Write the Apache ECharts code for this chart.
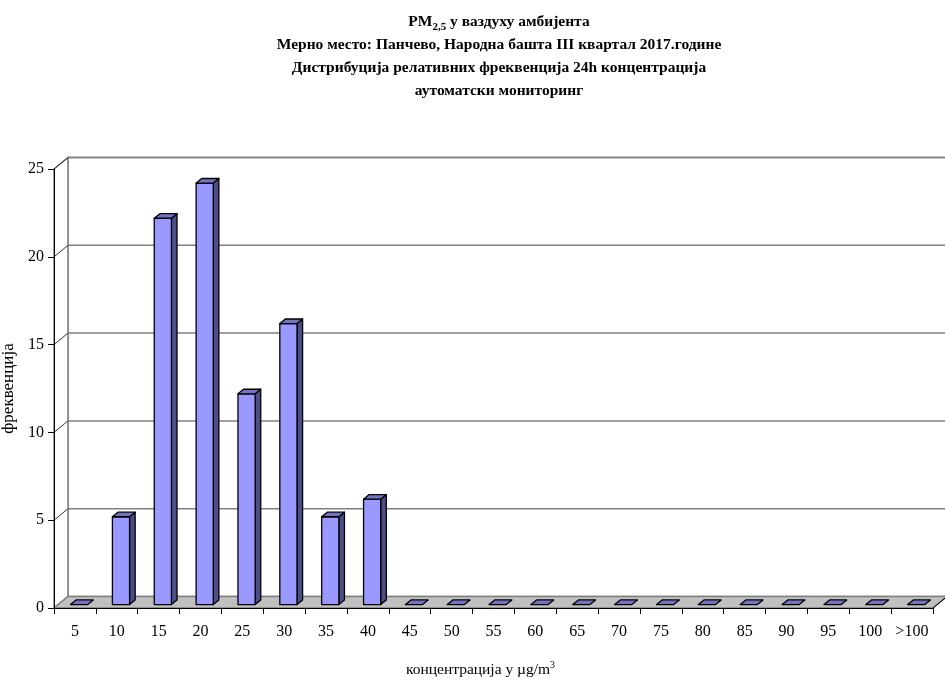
<!DOCTYPE html>
<html><head><meta charset="utf-8">
<script src="https://cdn.jsdelivr.net/npm/echarts@6/dist/echarts.min.js"></script>
<style>html,body{margin:0;padding:0;background:#fff}#c{width:945px;height:684px}</style>
</head><body><div id="c"></div>
<script>
var categories = ['5','10','15','20','25','30','35','40','45','50','55','60','65','70','75','80','85','90','95','100','>100'];
var frequency = [0,5,22,24,12,16,5,6,0,0,0,0,0,0,0,0,0,0,0,0,0];
var yTicks = [0,5,10,15,20,25];

var FONT = '"Liberation Serif","Times New Roman",serif';
var DX = 14, DY = -11.5;         // wall depth offset
var BF = 0.3, BD = 0.4;          // bar front position & depth fraction
var chart = echarts.init(document.getElementById('c'));

function wallsRender(params, api) {
  var n = categories.length;
  var p0 = api.coord([0, 0]);
  var left = p0[0] - api.size([1, 0])[0] / 2;
  var right = left + api.size([1, 0])[0] * n;
  var y0 = api.coord([0, 0])[1];
  var yTop = api.coord([0, 25])[1];
  var ch = [];
  ch.push({type: 'polygon', shape: {points: [[left+DX, yTop+DY],[right+DX, yTop+DY],[right+DX, y0+DY],[left+DX, y0+DY]]},
    style: {fill: '#fff', stroke: '#808080', lineWidth: 1.5}});
  ch.push({type: 'polygon', shape: {points: [[left, yTop],[left+DX, yTop+DY],[left+DX, y0+DY],[left, y0]]},
    style: {fill: '#fff', stroke: '#808080', lineWidth: 1.5}});
  yTicks.forEach(function (t) {
    if (t === 0) return;
    var y = api.coord([0, t])[1];
    ch.push({type: 'line', shape: {x1: left+DX, y1: y+DY, x2: right+DX, y2: y+DY}, style: {stroke: '#808080', lineWidth: 1.5}});
    ch.push({type: 'line', shape: {x1: left, y1: y, x2: left+DX, y2: y+DY}, style: {stroke: '#333', lineWidth: 1}});
  });
  ch.push({type: 'polygon', shape: {points: [[left, y0],[right, y0],[right+DX, y0+DY],[left+DX, y0+DY]]},
    style: {fill: '#c0c0c0', stroke: '#808080', lineWidth: 1.5}});
  ch.push({type: 'line', shape: {x1: right, y1: y0, x2: right+DX, y2: y0+DY}, style: {stroke: '#000', lineWidth: 1}});
  return {type: 'group', children: ch};
}

function barRender(params, api) {
  var idx = api.value(0), v = api.value(1);
  var cw = api.size([1, 0])[0];
  var bw = cw * 0.41;
  var c = api.coord([idx, v]);
  var yb = api.coord([idx, 0])[1] + DY * BF;
  var yt = c[1] + DY * BF;
  var x0 = c[0] - bw / 2 + DX * BF;
  var x1 = x0 + bw;
  var ddx = DX * BD, ddy = DY * BD;
  var st = {stroke: '#000', lineWidth: 1.3, lineJoin: 'round'};
  var ch = [];
  if (v > 0) {
    ch.push({type: 'polygon', shape: {points: [[x1, yt],[x1+ddx, yt+ddy],[x1+ddx, yb+ddy],[x1, yb]]}, style: Object.assign({fill: '#4d4d88'}, st)});
    ch.push({type: 'polygon', shape: {points: [[x0, yt],[x1, yt],[x1, yb],[x0, yb]]}, style: Object.assign({fill: '#9999ff'}, st)});
  }
  ch.push({type: 'polygon', shape: {points: [[x0, yt],[x1, yt],[x1+ddx, yt+ddy],[x0+ddx, yt+ddy]]}, style: Object.assign({fill: '#7373c0'}, st)});
  return {type: 'group', children: ch};
}

var barData = frequency.map(function (v, i) { return [i, v]; });

chart.setOption({
  animation: false,
  backgroundColor: '#fff',
  grid: {left: 54, right: 12, top: 169, bottom: 76, outerBoundsMode: 'none', containLabel: false},
  graphic: [{
    type: 'text', x: 499, y: 10,
    style: {
      text: '{b|PM}{sub|2,5}{b| у ваздуху амбијента}\n{b|Мерно место: Панчево, Народна башта III квартал 2017.године}\n{b|Дистрибуција релативних фреквенција 24h концентрација}\n{b|аутоматски мониторинг}',
      align: 'center', verticalAlign: 'top',
      rich: {
        b: {fontFamily: FONT, fontWeight: 'bold', fontSize: 15.5, lineHeight: 23, fill: '#000'},
        sub: {fontFamily: FONT, fontWeight: 'bold', fontSize: 11, lineHeight: 23, verticalAlign: 'bottom', padding: [8, 0, 0, 0], fill: '#000'}
      }
    }
  }],
  xAxis: {
    type: 'category', data: categories, boundaryGap: true,
    axisLine: {lineStyle: {color: '#000', width: 1}},
    axisTick: {show: true, length: 6, lineStyle: {color: '#000'}},
    axisLabel: {fontFamily: FONT, fontSize: 16, color: '#000', margin: 16, interval: 0},
    name: '{n|концентрација у µg/m}{sup|3}', nameLocation: 'middle', nameGap: 52,
    nameTextStyle: {padding: [0, 26, 0, 0], rich: {
      n: {fontFamily: FONT, fontSize: 15.5, color: '#000'},
      sup: {fontFamily: FONT, fontSize: 10, color: '#000', verticalAlign: 'top', padding: [0, 0, 10, 0]}
    }},
    splitLine: {show: false}, z: 5
  },
  yAxis: {
    type: 'value', min: 0, max: 25, interval: 5,
    axisLine: {show: true, lineStyle: {color: '#000', width: 1}},
    axisTick: {show: true, length: 6, lineStyle: {color: '#000'}},
    axisLabel: {fontFamily: FONT, fontSize: 16, color: '#000', margin: 10},
    name: 'фреквенција', nameLocation: 'middle', nameGap: 34,
    nameTextStyle: {fontFamily: FONT, fontSize: 17, color: '#000'},
    splitLine: {show: false}, z: 5
  },
  series: [
    {type: 'custom', renderItem: wallsRender, data: [[0, 0]], z: 1, silent: true, clip: false},
    {type: 'custom', renderItem: barRender, data: barData, z: 3, clip: false, encode: {x: 0, y: 1}}
  ]
});
</script></body></html>
